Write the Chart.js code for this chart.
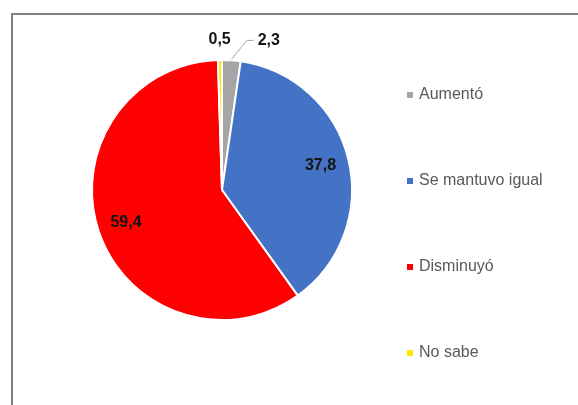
<!DOCTYPE html>
<html lang="es">
<head>
<meta charset="utf-8">
<title>Percepción</title>
<script src="https://cdn.jsdelivr.net/npm/chart.js@4"></script>
<style>
  html, body { margin: 0; padding: 0; background: #fff; overflow: hidden; }
  .marco {
    position: absolute; left: 11px; top: 13px;
    width: 640px; height: 440px;
    border: 2px solid #808080;
  }
  #grafico { position: absolute; left: 0; top: 0; }
</style>
</head>
<body>
<div class="marco"></div>
<canvas id="grafico" width="578" height="405"></canvas>
<script>
// === DATOS === //
const categorias = ['Aumentó', 'Se mantuvo igual', 'Disminuyó', 'No sabe'];
const porcentajes = [2.3, 37.8, 59.4, 0.5];

// === ESTILO === //
const colores = ['#A5A5A5', '#4472C4', '#FF0000', '#FFE600'];
const fuente = '"Liberation Sans", Arial, sans-serif';

function formato(v) {
  return v.toFixed(1).replace('.', ',');
}

// etiquetas de valor (dentro y fuera del pastel)
const etiquetas = {
  id: 'etiquetas',
  afterDatasetsDraw(chart) {
    const ctx = chart.ctx;
    const meta = chart.getDatasetMeta(0);
    ctx.save();
    ctx.font = 'bold 16px ' + fuente;
    ctx.fillStyle = '#141414';
    ctx.textAlign = 'center';
    ctx.textBaseline = 'middle';
    meta.data.forEach((arc, i) => {
      const p = arc.getProps(['x', 'y', 'startAngle', 'endAngle', 'outerRadius'], true);
      const medio = (p.startAngle + p.endAngle) / 2;
      const v = porcentajes[i];
      const txt = formato(v);
      if (v >= 5) {
        const r = p.outerRadius * 0.78;
        ctx.fillText(txt, p.x + Math.cos(medio) * r, p.y + Math.sin(medio) * r);
        return;
      }
      const r = p.outerRadius + 20;
      let lx = p.x + Math.cos(medio) * r;
      let ly = p.y + Math.sin(medio) * r;
      if (Math.cos(medio) > 0.02) {
        // etiqueta desplazada con línea guía
        lx += 36;
        ctx.strokeStyle = '#a6a6a6';
        ctx.lineWidth = 1;
        ctx.beginPath();
        ctx.moveTo(p.x + Math.cos(medio) * (p.outerRadius + 1), p.y + Math.sin(medio) * (p.outerRadius + 1));
        ctx.lineTo(lx - 22, ly);
        ctx.lineTo(lx - 15, ly);
        ctx.stroke();
      }
      ctx.fillText(txt, lx, ly);
    });
    ctx.restore();
  }
};

// leyenda a la derecha
const leyenda = {
  id: 'leyenda',
  afterDraw(chart) {
    const ctx = chart.ctx;
    ctx.save();
    ctx.font = '16px ' + fuente;
    ctx.textBaseline = 'middle';
    ctx.textAlign = 'left';
    categorias.forEach((c, i) => {
      const y = 95 + i * 86;
      ctx.fillStyle = colores[i];
      ctx.fillRect(407, y - 3, 6, 6);
      ctx.fillStyle = '#595959';
      ctx.fillText(c, 419, y);
    });
    ctx.restore();
  }
};

new Chart(document.getElementById('grafico'), {
  type: 'pie',
  data: {
    labels: categorias,
    datasets: [{
      data: porcentajes,
      backgroundColor: colores,
      borderColor: '#ffffff',
      borderWidth: 2
    }]
  },
  options: {
    responsive: false,
    animation: false,
    layout: { padding: { left: 91, right: 225, top: 58, bottom: 83 } },
    plugins: {
      legend: { display: false },
      tooltip: { enabled: false }
    }
  },
  plugins: [etiquetas, leyenda]
});
</script>
</body>
</html>
